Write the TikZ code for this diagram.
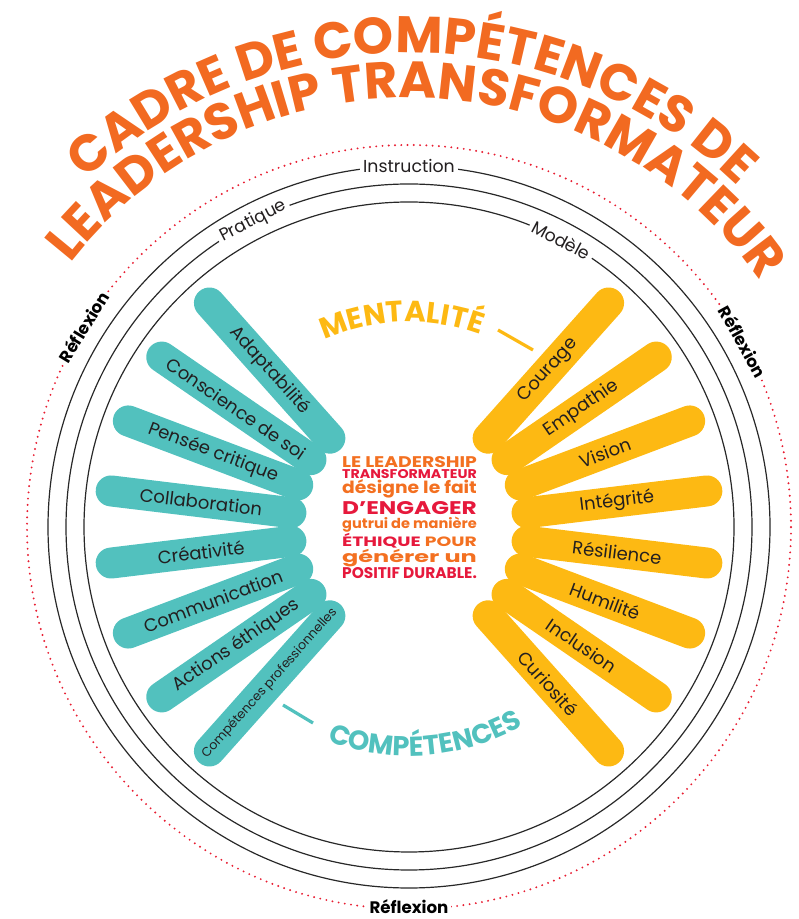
\documentclass[tikz,border=0pt]{standalone}
\usepackage{fontspec}
\usepackage{graphicx}
\setmainfont{Poppins}
\usetikzlibrary{decorations.text}
\definecolor{barteal}{RGB}{82,193,190}
\definecolor{baryellow}{RGB}{253,185,19}
\definecolor{titleorange}{RGB}{242,106,33}
\definecolor{ctrorange}{RGB}{243,112,33}
\definecolor{ctrred}{RGB}{230,25,60}
\definecolor{dotred}{RGB}{232,30,50}
\definecolor{inkdark}{RGB}{35,31,32}
\definecolor{ringgray}{RGB}{40,40,40}
\newcommand\titlefnt{\fontsize{38.5}{38.5}\selectfont\bfseries\color{titleorange}}
\newcommand\mentfnt{\fontsize{22}{22}\selectfont\bfseries\color{baryellow}}
\newcommand\compfnt{\fontsize{20.5}{20.5}\selectfont\bfseries\color{barteal}}
\tikzset{
  bar/.style={shape=rectangle, rounded corners=11.6pt, minimum width=159pt, minimum height=23.25pt, inner sep=0pt, text=inkdark, font=\fontsize{13.5}{14}\selectfont},
  tealbar/.style={bar, fill=barteal},
  yellowbar/.style={bar, fill=baryellow},
  ring/.style={draw=ringgray, line width=0.9pt},
  dotring/.style={draw=dotred, line width=1.6pt, line cap=round, dash pattern=on 0pt off 4.7pt},
  ringlabel/.style={fill=white, inner sep=2.5pt, text=inkdark, font=\fontsize{13}{13}\selectfont},
  reflabel/.style={fill=white, inner sep=2pt, text=black, font=\bfseries\fontsize{12.5}{12.5}\selectfont},
  ctrline/.style={inner sep=0pt, anchor=base, font=\bfseries},
  tick/.style={line width=2.4pt},
}
\begin{document}
\begin{tikzpicture}[x=0.75pt,y=0.75pt]
\useasboundingbox (0,0) rectangle (798,919);
\coordinate (C) at (409,392);

% title
\path[decorate, decoration={text along path, text align=center,
  text={|\titlefnt|CADRE DE COMPÉTENCES DE}}]
  ([shift={(149.5:474)}]C) arc[start angle=149.5, end angle=29.5, radius=474];
\path[decorate, decoration={text along path, text align=center,
  text={|\titlefnt|LEADERSHIP TRANSFORMATEUR}}]
  ([shift={(153.5:429)}]C) arc[start angle=153.5, end angle=23.5, radius=429];

% rings
\draw[dotring] (C) circle[radius=382];
\draw[ring] (C) circle[radius=361];
\draw[ring] (C) circle[radius=343];
\draw[ring] (C) circle[radius=325];

\node[ringlabel] (instr) at ([shift={(90:361)}]C) {Instruction};
\node[ringlabel, rotate=27] (prat) at ([shift={(117:343)}]C) {Pratique};
\node[ringlabel, rotate=-28] (mod) at ([shift={(62:325)}]C) {Modèle};
\node[reflabel, rotate=58.4] (refl) at ([shift={(148.4:382)}]C) {Réflexion};
\node[reflabel, rotate=-61] (refr) at ([shift={(29:382)}]C) {Réflexion};
\node[reflabel] (refb) at ([shift={(270:380)}]C) {Réflexion};

% left bars
\node[tealbar, rotate=-48.3] (l1) at ([shift={(131.7:209.5)}]C) {Adaptabilité};
\node[tealbar, rotate=-34.5] (l2) at ([shift={(145.5:209.5)}]C) {Conscience de soi};
\node[tealbar, rotate=-20.7] (l3) at ([shift={(159.3:209.5)}]C) {Pensée critique};
\node[tealbar, rotate=-6.9] (l4) at ([shift={(173.1:209.5)}]C) {Collaboration};
\node[tealbar, rotate=6.9] (l5) at ([shift={(186.9:209.5)}]C) {Créativité};
\node[tealbar, rotate=20.7] (l6) at ([shift={(200.7:209.5)}]C) {Communication};
\node[tealbar, rotate=34.5] (l7) at ([shift={(214.5:209.5)}]C) {Actions éthiques};
\node[tealbar, rotate=48.3, font=\fontsize{9.5}{10}\selectfont] (l8) at ([shift={(228.3:209.5)}]C) {Compétences professionnelles};

% right bars
\node[yellowbar, rotate=48.3] (r1) at ([shift={(48.3:209.5)}]C) {Courage};
\node[yellowbar, rotate=34.5] (r2) at ([shift={(34.5:209.5)}]C) {Empathie};
\node[yellowbar, rotate=20.7] (r3) at ([shift={(20.7:209.5)}]C) {Vision};
\node[yellowbar, rotate=6.9] (r4) at ([shift={(6.9:209.5)}]C) {Intégrité};
\node[yellowbar, rotate=-6.9] (r5) at ([shift={(-6.9:209.5)}]C) {Résilience};
\node[yellowbar, rotate=-20.7] (r6) at ([shift={(-20.7:209.5)}]C) {Humilité};
\node[yellowbar, rotate=-34.5] (r7) at ([shift={(-34.5:209.5)}]C) {Inclusion};
\node[yellowbar, rotate=-48.3] (r8) at ([shift={(-48.3:209.5)}]C) {Curiosité};

% MENTALITE and COMPETENCES
\path[decorate, decoration={text along path, text align=center,
  text={|\mentfnt|MENTALITÉ}}]
  ([shift={(122:205)}]C) arc[start angle=122, end angle=62, radius=205];
\path[decorate, decoration={text along path, text align=center,
  text={|\compfnt|COMPÉTENCES}}]
  ([shift={(242:229)}]C) arc[start angle=242, end angle=307, radius=229];
\coordinate (m1) at (498,589);
\coordinate (m2) at (533,569);
\draw[tick, baryellow] (m1) -- (m2);
\coordinate (c1) at (283,214);
\coordinate (c2) at (313,196);
\draw[tick, barteal] (c1) -- (c2);

% center text
\node[ctrline] (t1) at (409.5,451) {\resizebox{101pt}{8.25pt}{\color{ctrorange}LE LEADERSHIP}};
\node[ctrline] (t2) at (409.5,440) {\resizebox{101pt}{6.75pt}{\color{ctrred}TRANSFORMATEUR}};
\node[ctrline] (t3) at (409.5,425) {\resizebox{101pt}{10.5pt}{\color{ctrorange}désigne le fait}};
\node[ctrline] (t4) at (409.5,404) {\resizebox{101pt}{9.75pt}{\color{ctrred}D\char39 ENGAGER}};
\node[ctrline] (t5) at (409.5,390) {\resizebox{101pt}{8.6pt}{\color{ctrorange}gutrui de manière}};
\node[ctrline] (t6) at (409.5,372) {\resizebox{101pt}{9.9pt}{\color{ctrred}ÉTHIQUE \color{ctrorange}POUR}};
\node[ctrline] (t7) at (409.5,356) {\resizebox{101pt}{9.9pt}{\color{ctrorange}générer un}};
\node[ctrline] (t8) at (409.5,340) {\resizebox{101pt}{8.25pt}{\color{ctrred}POSITIF DURABLE.}};
\end{tikzpicture}
\end{document}
